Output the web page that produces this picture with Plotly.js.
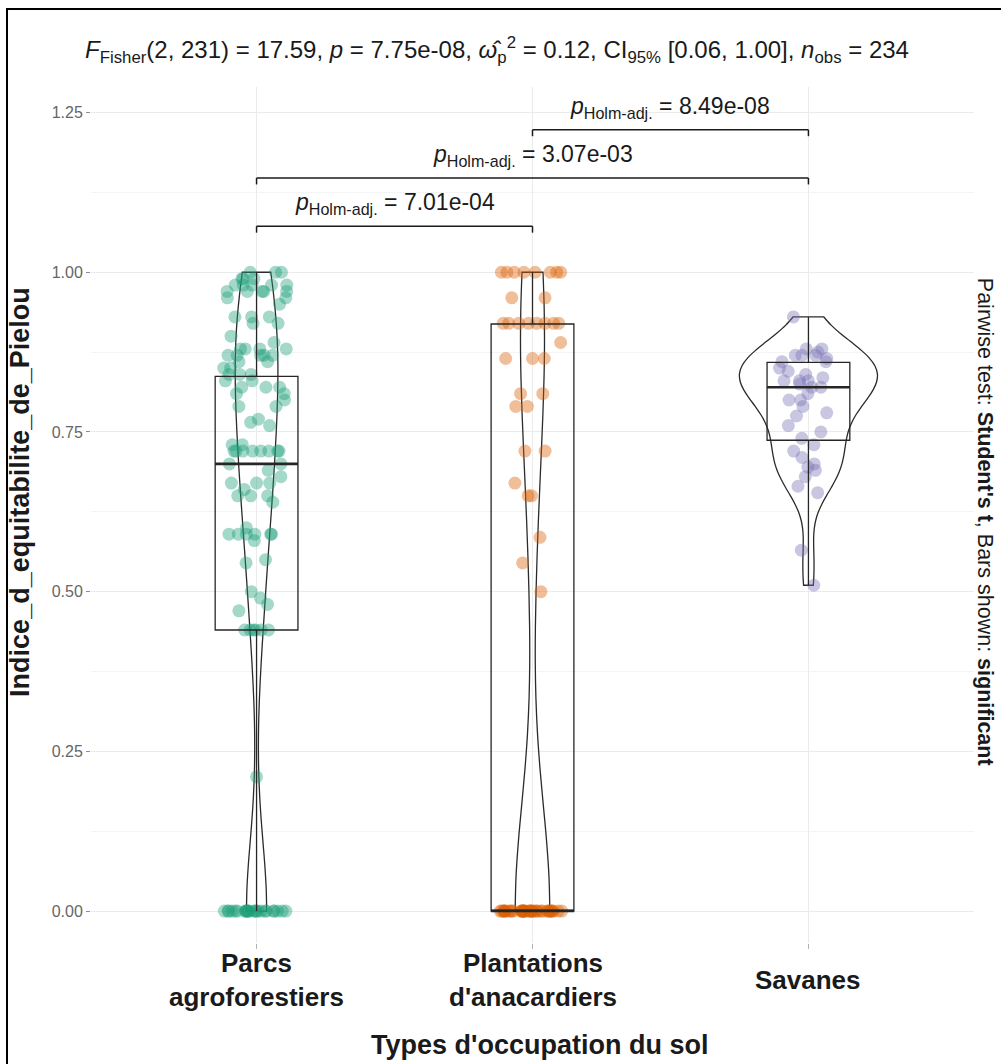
<!DOCTYPE html>
<html>
<head>
<meta charset="utf-8">
<script src="https://cdn.plot.ly/plotly-3.0.1.min.js"></script>
<style>
html,body{margin:0;padding:0;background:#fff;}
#chart{width:1001px;height:1064px;}
#frame{position:absolute;left:6px;top:8px;right:0;bottom:0;border-top:2px solid #000;border-left:2px solid #000;pointer-events:none;}
</style>
</head>
<body>
<div id="chart"></div>
<div id="frame"></div>
<script>
// ---------------- data ----------------
const categories = ["Parcs agroforestiers", "Plantations d'anacardiers", "Savanes"];
const tickLabels = ["Parcs<br>agroforestiers", "Plantations<br>d'anacardiers", "Savanes"];
const groupColors = ["rgba(27,158,119,0.4)", "rgba(217,95,2,0.4)", "rgba(117,112,179,0.4)"];

const parcs = [
  0,0,0,0,0,0,0,0,0,0,0,0,0,0,0,0,0,0,0,0,0,0,0,0,
  0.21,
  0.44,0.44,0.44,0.44,0.44,0.44,
  0.47,0.48,0.49,0.50,
  0.545,0.55,
  0.58,0.59,0.59,0.59,0.59,0.59,0.59,0.60,
  0.64,0.65,0.65,0.65,0.66,0.67,0.67,0.67,0.68,0.69,0.70,0.70,
  0.72,0.72,0.72,0.72,0.72,0.72,0.72,0.72,0.73,0.73,
  0.76,0.765,0.77,0.79,0.79,0.80,0.81,0.81,0.82,0.82,0.82,0.83,0.83,
  0.84,0.84,0.84,0.85,0.85,0.86,0.86,
  0.87,0.87,0.87,0.87,0.87,0.88,0.88,0.88,0.88,0.89,0.90,
  0.92,0.92,0.93,0.93,0.93,0.95,0.96,0.96,
  0.97,0.97,0.97,0.97,0.97,0.98,0.98,0.98,0.98,0.98,0.99,0.99,0.99,1.00,1.00,1.00
];
const plantations = [
  0,0,0,0,0,0,0,0,0,0,0,0,0,0,0,0,0,0,0,0,0,0,0,0,0,0,0,0,0,0,0,0,0,0,0,0,0,0,
  0.50,0.545,0.585,0.65,0.65,0.67,0.72,0.72,0.79,0.79,0.81,0.81,
  0.865,0.865,0.865,0.89,
  0.92,0.92,0.92,0.92,0.92,0.92,0.92,0.92,
  0.96,0.96,
  1.00,1.00,1.00,1.00,1.00,1.00,1.00,1.00
];
const savanes = [
  0.93,0.88,0.88,0.875,0.87,0.87,0.87,0.865,0.86,0.86,0.85,0.845,0.84,0.835,
  0.83,0.83,0.83,0.825,0.82,0.82,0.81,0.80,0.80,0.79,0.78,0.775,0.76,0.75,
  0.74,0.73,0.72,0.71,0.70,0.695,0.69,0.68,0.665,0.655,0.565,0.51
];
const groups = [parcs, plantations, savanes];

// box statistics
const q1 = [0.44, 0.00, 0.737];
const medians = [0.70, 0.00, 0.82];
const q3 = [0.837, 0.919, 0.859];
const lowerWhisker = [0.00, 0.00, 0.51];
const upperWhisker = [1.00, 1.00, 0.93];

// pairwise comparisons
const pairs = [[0, 1], [0, 2], [1, 2]];
const pHolm = ["7.01e-04", "3.07e-03", "8.49e-08"];

// test summary
const fDf = [2, 231];
const fValue = "17.59";
const pValue = "7.75e-08";
const omega2 = "0.12";
const ci95 = ["0.06", "1.00"];
const nObs = 234;

// ---------------- helpers ----------------
function quant(sorted, p) {
  const h = (sorted.length - 1) * p, lo = Math.floor(h), hi = Math.ceil(h);
  return sorted[lo] + (h - lo) * (sorted[hi] - sorted[lo]);
}
function bwNrd0(v) {
  const n = v.length;
  const m = v.reduce((a, b) => a + b, 0) / n;
  const sd = Math.sqrt(v.reduce((a, b) => a + (b - m) * (b - m), 0) / (n - 1));
  const s = v.slice().sort((a, b) => a - b);
  const iqr = quant(s, 0.75) - quant(s, 0.25);
  let lo = Math.min(sd, iqr / 1.34);
  if (!(lo > 0)) lo = sd;
  return 0.9 * lo * Math.pow(n, -0.2);
}
// peak of the gaussian density, used to give every violin the same area (ggplot scale = "area")
function kdePeak(v, bw) {
  const mn = Math.min(...v), mx = Math.max(...v);
  let peak = 0;
  for (let k = 0; k <= 300; k++) {
    const t = mn + (mx - mn) * k / 300;
    let s = 0;
    for (const x of v) { const z = (t - x) / bw; s += Math.exp(-0.5 * z * z); }
    peak = Math.max(peak, s / (v.length * bw * Math.sqrt(2 * Math.PI)));
  }
  return peak;
}

const bws = groups.map(bwNrd0);
const peaks = groups.map((g, i) => kdePeak(g, bws[i]));
const maxPeak = Math.max(...peaks);
const VIOLIN_WIDTH = 0.5;

const FONT = "Liberation Sans, Arial, sans-serif";
const traces = [];

// violins
groups.forEach((vals, i) => {
  traces.push({
    type: "violin",
    x: vals.map(() => i),
    y: vals,
    points: false,
    box: {visible: false},
    meanline: {visible: false},
    line: {color: "#2b2b2b", width: 1.3},
    fillcolor: "rgba(0,0,0,0)",
    spanmode: "hard",
    scalemode: "width",
    scalegroup: "v" + i,
    bandwidth: bws[i],
    width: VIOLIN_WIDTH * peaks[i] / maxPeak,
    hoverinfo: "skip",
    showlegend: false
  });
});

// jittered points (library jitter)
groups.forEach((vals, i) => {
  traces.push({
    type: "box",
    x: vals.map(() => i),
    y: vals,
    boxpoints: "all",
    jitter: 1,
    pointpos: 0,
    width: 0.24,
    line: {width: 0, color: "rgba(0,0,0,0)"},
    fillcolor: "rgba(0,0,0,0)",
    whiskerwidth: 0,
    marker: {size: 13, color: groupColors[i], line: {width: 0}},
    hoverinfo: "skip",
    showlegend: false
  });
});

// boxes
groups.forEach((vals, i) => {
  traces.push({
    type: "box",
    x: [i],
    q1: [q1[i]],
    median: [medians[i]],
    q3: [q3[i]],
    lowerfence: [lowerWhisker[i]],
    upperfence: [upperWhisker[i]],
    width: 0.3,
    whiskerwidth: 0,
    boxpoints: false,
    line: {color: "#262626", width: 1.3},
    fillcolor: "rgba(0,0,0,0)",
    hoverinfo: "skip",
    showlegend: false
  });
});

// shapes: thicker medians + significance brackets
const shapes = [];
medians.forEach((m, i) => {
  shapes.push({type: "line", xref: "x", yref: "y", x0: i - 0.15, x1: i + 0.15, y0: m, y1: m,
    line: {color: "#262626", width: 2.6}});
});
const allMax = Math.max(...groups.map(g => Math.max(...g)));
const annotations = [];
pairs.forEach((pr, k) => {
  const yb = allMax + 0.072 + k * 0.0755;
  const tip = 0.01;
  const lc = {color: "#1a1a1a", width: 1.5};
  shapes.push({type: "line", xref: "x", yref: "y", x0: pr[0], x1: pr[1], y0: yb, y1: yb, line: lc});
  shapes.push({type: "line", xref: "x", yref: "y", x0: pr[0], x1: pr[0], y0: yb, y1: yb - tip, line: lc});
  shapes.push({type: "line", xref: "x", yref: "y", x0: pr[1], x1: pr[1], y0: yb, y1: yb - tip, line: lc});
  annotations.push({
    x: (pr[0] + pr[1]) / 2, y: yb + 0.035, xref: "x", yref: "y",
    text: "<i>p</i><sub>Holm-adj.</sub> = " + pHolm[k],
    showarrow: false, xanchor: "center", yanchor: "middle",
    font: {family: FONT, size: 23, color: "#1a1a1a"}
  });
});

// x tick labels
tickLabels.forEach((t, i) => {
  annotations.push({
    x: i, xref: "x", y: -0.043, yref: "paper", text: t, showarrow: false,
    xanchor: "center", yanchor: "middle",
    font: {family: FONT, size: 26, color: "#1a1a1a", weight: 700}
  });
});
// axis titles
annotations.push({
  x: 0.508, xref: "paper", y: -0.119, yref: "paper", text: "Types d'occupation du sol",
  showarrow: false, xanchor: "center", yanchor: "middle",
  font: {family: FONT, size: 27, color: "#1a1a1a", weight: 700}
});
annotations.push({
  x: -0.0804, xref: "paper", y: 0.527, yref: "paper", text: "Indice_d_equitabilite_de_Pielou",
  showarrow: false, xanchor: "center", yanchor: "middle", textangle: -90,
  font: {family: FONT, size: 27, color: "#1a1a1a", weight: 700}
});
// caption (right side)
annotations.push({
  x: 1.0125, xref: "paper", y: 0.492, yref: "paper",
  text: "Pairwise test: <b>Student's t</b>, Bars shown: <b>significant</b>",
  showarrow: false, xanchor: "center", yanchor: "middle", textangle: 90,
  font: {family: FONT, size: 21.5, color: "#1a1a1a"}
});

const titleText =
  "<i>F</i><sub>Fisher</sub>(" + fDf[0] + ", " + fDf[1] + ") = " + fValue +
  ", <i>p</i> = " + pValue +
  ", <i>ω̂</i><sub>p</sub><sup>2</sup> = " + omega2 +
  ", CI<sub>95%</sub> [" + ci95[0] + ", " + ci95[1] + "], <i>n</i><sub>obs</sub> = " + nObs;

const layout = {
  width: 1001, height: 1064,
  margin: {l: 91, r: 27, t: 87, b: 121, pad: 0},
  paper_bgcolor: "#ffffff", plot_bgcolor: "#ffffff",
  font: {family: FONT, color: "#1a1a1a"},
  showlegend: false,
  boxmode: "overlay", violinmode: "overlay",
  title: {
    text: titleText, x: 0.4965, xref: "container", xanchor: "center",
    y: 0.953, yref: "container", yanchor: "middle",
    font: {family: FONT, size: 24, color: "#1a1a1a"}
  },
  xaxis: {
    range: [-0.6, 2.6], tickvals: [0, 1, 2], showticklabels: false,
    showgrid: true, gridcolor: "#ebebeb", gridwidth: 1,
    zeroline: false, showline: false,
    ticks: "outside", ticklen: 5, tickcolor: "#b3b3b3", tickwidth: 1
  },
  yaxis: {
    range: [-0.05, 1.29], tick0: 0, dtick: 0.25, tickformat: ".2f",
    showgrid: true, gridcolor: "#ebebeb", gridwidth: 1,
    minor: {dtick: 0.125, tick0: 0, showgrid: true, gridcolor: "#f4f4f4", gridwidth: 1},
    zeroline: false, showline: false,
    ticks: "outside", ticklen: 4, tickcolor: "#8c8c8c", tickwidth: 1,
    tickfont: {family: FONT, size: 16, color: "#666666"}
  },
  shapes: shapes,
  annotations: annotations
};

Plotly.newPlot("chart", traces, layout, {staticPlot: true, displayModeBar: false});
</script>
</body>
</html>
